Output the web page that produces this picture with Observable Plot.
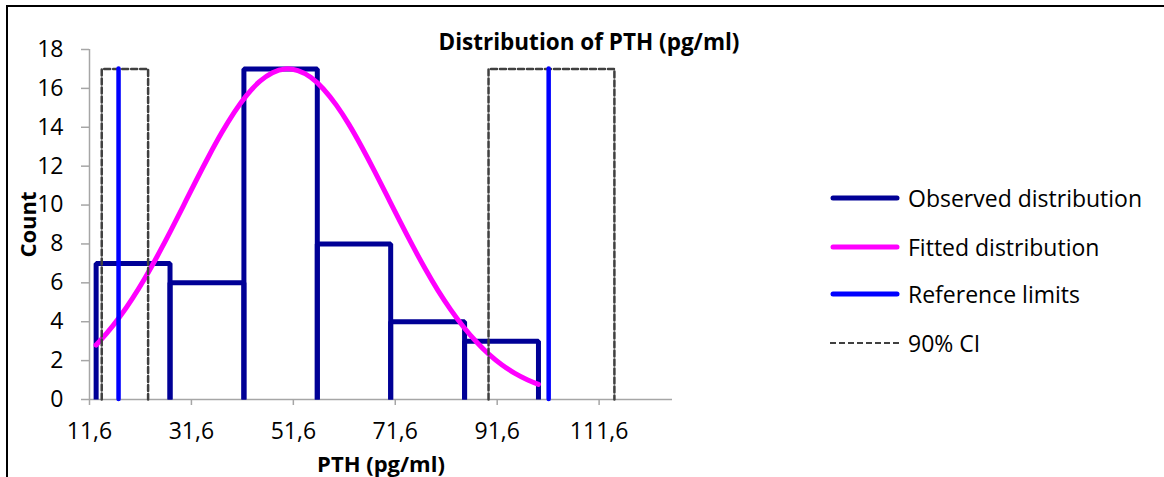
<!DOCTYPE html>
<html><head><meta charset="utf-8">
<script src="https://cdn.jsdelivr.net/npm/d3@7"></script>
<script src="https://cdn.jsdelivr.net/npm/@observablehq/plot@0.6"></script>
<style>
html,body{margin:0;padding:0;background:#fff;}
#wrap{position:relative;width:1164px;height:477px;overflow:hidden;font-family:"Open Sans",sans-serif;}
#frame{position:absolute;left:6px;top:5px;width:1300px;height:600px;border-top:2px solid #000;border-left:2px solid #000;box-sizing:border-box;}
#chart{position:absolute;left:0;top:0;}
.lg{position:absolute;left:829px;display:flex;align-items:center;font-size:23px;color:#000;white-space:nowrap;height:30px;}
.lg svg{margin-right:7px;}
</style></head><body>
<div id="wrap"><div id="frame"></div><div id="chart"></div><div id="legendBox"></div></div>
<script>
// Histogram (observed distribution)
const binEdges = [12.9, 27.4, 41.9, 56.3, 70.7, 85.2, 99.7];
const counts = [7, 6, 17, 8, 4, 3];
// Fitted distribution
const fitX = [12.9, 15, 17.5, 20, 22.5, 25, 27.5, 30, 32.5, 35, 37.5, 40, 42.5, 45, 47.5, 50, 52.5, 55, 57.5, 60, 62.5, 65, 67.5, 70, 72.5, 75, 77.5, 80, 82.5, 85, 87.5, 90, 92.5, 95, 97.5, 99.7];
const fitY = [2.80, 3.41, 4.24, 5.19, 6.25, 7.42, 8.66, 9.95, 11.25, 12.51, 13.70, 14.77, 15.67, 16.36, 16.81, 17.0, 16.91, 16.57, 15.97, 15.15, 14.15, 13.00, 11.76, 10.47, 9.17, 7.91, 6.71, 5.60, 4.61, 3.73, 2.97, 2.32, 1.79, 1.36, 1.02, 0.78];
// Reference limits and their 90% CI
const refLimits = [17.3, 101.7];
const ciLower = [14.0, 23.1];
const ciUpper = [89.9, 114.6];
const limitHeight = 17;
const xTicks = [11.6, 31.6, 51.6, 71.6, 91.6, 111.6];
const yTicks = [0, 2, 4, 6, 8, 10, 12, 14, 16, 18];
const titleText = "Distribution of PTH (pg/ml)";
const xLabel = "PTH (pg/ml)";
const yLabel = "Count";
const legendItems = [
  {label: "Observed distribution", color: "#000096", width: 5, dash: null},
  {label: "Fitted distribution", color: "#ff00ff", width: 5, dash: null},
  {label: "Reference limits", color: "#0000ff", width: 5, dash: null},
  {label: "90% CI", color: "#404040", width: 2, dash: "6,3"}
];

const histPath = [];
counts.forEach((c, i) => {
  histPath.push({x: binEdges[i], y: 0, k: i});
  histPath.push({x: binEdges[i], y: c, k: i});
  histPath.push({x: binEdges[i + 1], y: c, k: i});
  histPath.push({x: binEdges[i + 1], y: 0, k: i});
});
const fit = fitX.map((x, i) => ({x, y: fitY[i]}));
const ciPath = [];
[ciLower, ciUpper].forEach((b, i) => {
  ciPath.push({x: b[0], y: 0, k: i});
  ciPath.push({x: b[0], y: limitHeight, k: i});
  ciPath.push({x: b[1], y: limitHeight, k: i});
  ciPath.push({x: b[1], y: 0, k: i});
});

const chart = Plot.plot({
  width: 1164, height: 477,
  marginLeft: 89, marginRight: 492, marginTop: 49, marginBottom: 78,
  x: {domain: [11.6, 126]},
  y: {domain: [0, 18]},
  style: {fontFamily: "'Open Sans', sans-serif", fontSize: "23px", color: "#000", background: "transparent", overflow: "visible"},
  marks: [
    Plot.ruleX([11.6], {stroke: "#a6a6a6", strokeWidth: 1.5}),
    Plot.ruleY([0], {stroke: "#a6a6a6", strokeWidth: 1.5}),
    Plot.axisX(xTicks, {tickSize: 6, tickPadding: 17, stroke: "#a6a6a6", strokeWidth: 1.5, fill: "#000", tickFormat: d => d.toFixed(1).replace(".", ","), label: null}),
    Plot.axisY(yTicks, {tickSize: 8, tickPadding: 18, stroke: "#a6a6a6", strokeWidth: 1.5, fill: "#000", label: null}),
    Plot.line(histPath, {x: "x", y: "y", z: "k", stroke: "#000096", strokeWidth: 5, strokeLinejoin: "miter", strokeLinecap: "butt"}),
    Plot.line(fit, {x: "x", y: "y", stroke: "#ff00ff", strokeWidth: 5, curve: "natural", strokeLinecap: "round"}),
    Plot.line(ciPath, {x: "x", y: "y", z: "k", stroke: "#404040", strokeWidth: 2.5, strokeDasharray: "6,3"}),
    Plot.ruleX(refLimits, {x: d => d, y1: () => 0, y2: () => limitHeight, stroke: "#0000ff", strokeWidth: 4.5, strokeLinecap: "round"}),
    Plot.text([titleText], {frameAnchor: "top", lineAnchor: "middle", textAnchor: "middle", dx: 208, dy: -7, fontWeight: "bold", fontSize: 22.5}),
    Plot.text([xLabel], {frameAnchor: "bottom", lineAnchor: "middle", textAnchor: "middle", dx: 0, dy: 65, fontWeight: "bold", fontSize: 22}),
    Plot.text([yLabel], {frameAnchor: "left", lineAnchor: "middle", textAnchor: "middle", dx: -61, rotate: -90, fontWeight: "bold", fontSize: 22})
  ]
});
document.getElementById("chart").appendChild(chart);

const lb = document.getElementById("legendBox");
const rowCenters = [198, 247, 294, 343];
legendItems.forEach((it, i) => {
  const row = document.createElement("div");
  row.className = "lg";
  row.style.top = (rowCenters[i] - 15) + "px";
  row.innerHTML = `<svg width="72" height="10"><line x1="${it.dash ? 1 : 4}" y1="5" x2="${it.dash ? 71 : 68}" y2="5" stroke="${it.color}" stroke-width="${it.width}" stroke-linecap="${it.dash ? 'butt' : 'round'}" ${it.dash ? `stroke-dasharray="${it.dash}"` : ""}/></svg><span>${it.label}</span>`;
  lb.appendChild(row);
});
</script>
</body></html>
